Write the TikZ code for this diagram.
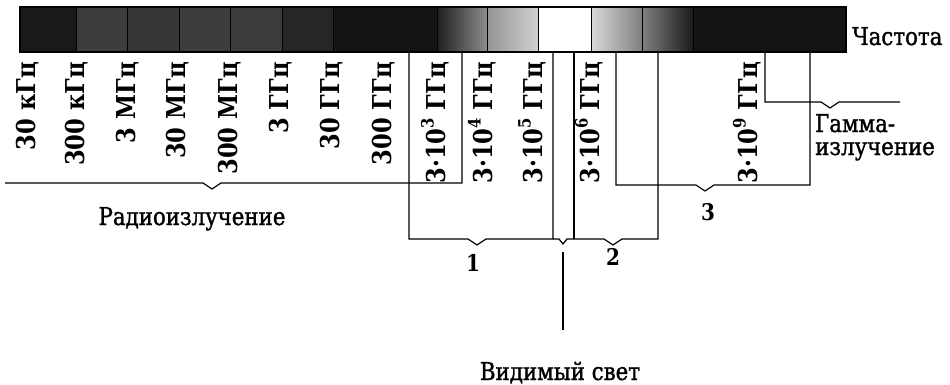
\documentclass[tikz,border=0pt]{standalone}
\usepackage{fontspec}
\setmainfont{DejaVu Serif}[FakeStretch=0.87]
\newfontfamily\lblfam{DejaVu Serif}[FakeStretch=0.87, FakeBold=1.3]
\newcommand\ticfont{\bfseries\fontsize{26}{26}\selectfont}
\newcommand\lblfont{\lblfam\fontsize{24.5}{23}\selectfont}
\newcommand\numfont{\bfseries\fontsize{23}{23}\selectfont}
\newcommand\mysup[1]{\raisebox{0.45em}{\fontsize{17}{17}\selectfont #1}}
\begin{document}
\begin{tikzpicture}[x=1pt,y=-1pt,
  conn/.style={draw, line width=1.2pt, line join=miter},
  tick/.style={rotate=90, anchor=east, inner sep=0pt, font=\ticfont},
  lbl/.style={inner sep=0pt, font=\lblfont},
  num/.style={inner sep=0pt, font=\numfont}]
\useasboundingbox (0,0) rectangle (950,385);
% spectrum bar
\fill[black!90] (20,7) rectangle (76,52);
\fill[black!76] (76,7) rectangle (127,52);
\fill[black!79] (127,7) rectangle (179,52);
\fill[black!76] (179,7) rectangle (230,52);
\fill[black!77] (230,7) rectangle (282,52);
\fill[black!85] (282,7) rectangle (333,52);
\fill[black!92] (333,7) rectangle (437,52);
\shade[left color=black!88, right color=black!45] (437,7) rectangle (487,52);
\shade[left color=black!42, right color=black!18] (487,7) rectangle (538,52);
\fill[white] (538,7) rectangle (591,52);
\shade[left color=black!15, right color=black!50] (591,7) rectangle (642,52);
\shade[left color=black!50, right color=black!90] (642,7) rectangle (693,52);
\fill[black!92] (693,7) rectangle (846,52);
\foreach \x in {76,127,179,230,282,333,437,487,538,591,642,693}
  \draw[line width=1pt] (\x,7) -- (\x,52);
\draw[line width=1.6pt] (20,7) rectangle (846,52);
\node[lbl, anchor=base west] (freq) at (852,45) {Частота};

% tick labels
\node[tick] (t1) at (28,62) {30 кГц};
\node[tick] (t2) at (77,62) {300 кГц};
\node[tick] (t3) at (128,62) {3 МГц};
\node[tick] (t4) at (178,62) {30 МГц};
\node[tick] (t5) at (230,62) {300 МГц};
\node[tick] (t6) at (281,62) {3 ГГц};
\node[tick] (t7) at (332,62) {30 ГГц};
\node[tick] (t8) at (384,62) {300 ГГц};
\node[tick] (t9) at (435,62) {3·10\mysup{3} ГГц};
\node[tick] (t10) at (482,62) {3·10\mysup{4} ГГц};
\node[tick] (t11) at (532,62) {3·10\mysup{5} ГГц};
\node[tick] (t12) at (589,62) {3·10\mysup{6} ГГц};
\node[tick] (t13) at (747,62) {3·10\mysup{9} ГГц};

% anchor points on the bar bottom
\coordinate (b409) at (409,52);
\coordinate (b462) at (462,52);
\coordinate (b553) at (553,52);
\coordinate (b574) at (574,52);
\coordinate (b616) at (616,52);
\coordinate (b658) at (658,52);
\coordinate (b765) at (765,52);
\coordinate (b810) at (810,52);
\coordinate (rL) at (5,183);
\coordinate (gR) at (900,102);
\coordinate (vTop) at (563,252);
\coordinate (vBot) at (563,330);

% radio bracket
\draw[conn] (rL) -- (203,183) -- (212,189) -- (221,183) -- (462,183) -- (b462);
% bracket 1
\draw[conn] (b409) -- (409,239) -- (468,239) -- (477,245) -- (486,239) -- (553,239) -- (b553);
% visible light bracket
\draw[conn] (553,239) -- (559,239) -- (563,244) -- (567,239) -- (574,239);
\draw[conn] (b574) -- (574,239);
\draw[conn] (vTop) -- (vBot);
% bracket 2
\draw[conn] (574,239) -- (604,239) -- (613,245) -- (622,239) -- (658,239) -- (b658);
% bracket 3
\draw[conn] (b616) -- (616,185) -- (696,185) -- (705,191) -- (714,185) -- (810,185) -- (b810);
% gamma
\draw[conn] (b765) -- (765,102) -- (821,102) -- (830,108) -- (839,102) -- (gR);

% labels
\node[lbl, anchor=base] (radio) at (192,225) {Радиоизлучение};
\node[num] (n1) at (473,263) {1};
\node[num] (n2) at (613,257) {2};
\node[num] (n3) at (708,212) {3};
\node[lbl, anchor=base] (vis) at (560,380) {Видимый свет};
\node[lbl, anchor=base west] (gam1) at (815,132) {Гамма-};
\node[lbl, anchor=base west] (gam2) at (815,155) {излучение};
\end{tikzpicture}
\end{document}
